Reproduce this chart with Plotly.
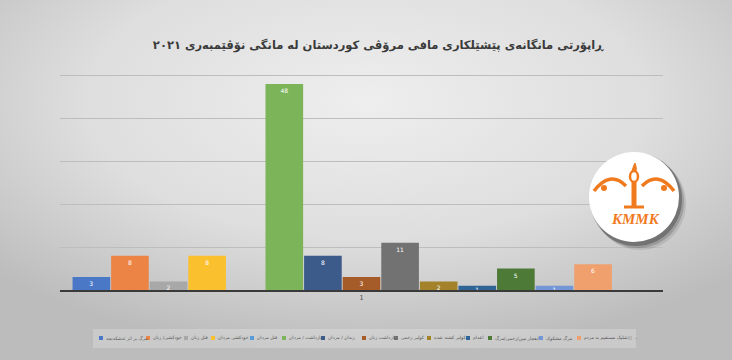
import base64
import plotly.graph_objects as go

# ---------------- data ----------------
categories = ["1"]
series_names = [
    "مرگ بر اثر ئەشکەنجە",
    "خودکشی/ زنان",
    "قتل زنان",
    "خودکشی مردان",
    "قتل مردان",
    "بازداشت / مردان",
    "زندان / مردان",
    "بازداشت زنان",
    "کولبر زخمی",
    "کولبر کشته شده",
    "اعدام",
    "انفجار مین/زخمی/مرگ",
    "مرگ مشکوک",
    "شلیک مستقیم به مردم",
    "-",
]
series_values = [3, 8, 2, 8, 0, 48, 8, 3, 11, 2, 1, 5, 1, 6, None]
title_text = "ڕاپۆرتی مانگانەی پێشێلکاری مافی مرۆڤی کوردستان لە مانگی نۆڤێمبەری ٢٠٢١"

# ---------------- styles ----------------
colors = ["#4A78C6", "#EC8446", "#A8A8A8", "#FBC02D", "#5B9BD5", "#7CB45A",
          "#3C5A8A", "#A65C28", "#727272", "#A3822A", "#2F6496", "#4E7A38",
          "#7396D6", "#EFA06C", "#B7B7B7"]
W, H = 732, 360
ML, MR, MT, MB = 60, 69, 71, 70
PW, PH = W - ML - MR, H - MT - MB
FONT = "DejaVu Sans"


def px(x):
    return (x - ML) / PW


def py(y):
    return (H - MB - y) / PH


fig = go.Figure()
for name, val, col in zip(series_names, series_values, colors):
    fig.add_trace(go.Bar(
        x=categories, y=[val], name=name,
        marker=dict(color=col, line=dict(width=0)),
        texttemplate="%{y}",
        textposition="inside",
        insidetextanchor="end",
        textangle=0,
        textfont=dict(size=6, color="white", family=FONT),
        cliponaxis=False,
        showlegend=False,
    ))

# background gradient
svg = ("<svg xmlns='http://www.w3.org/2000/svg' width='732' height='360'>"
       "<defs><radialGradient id='g' cx='50%' cy='28%' r='70%'>"
       "<stop offset='0' stop-color='#eeeeee'/>"
       "<stop offset='0.55' stop-color='#dedede'/>"
       "<stop offset='1' stop-color='#bcbcbc'/></radialGradient></defs>"
       "<rect width='732' height='360' fill='url(#g)'/></svg>")
src = "data:image/svg+xml;base64," + base64.b64encode(svg.encode()).decode()

shapes = []
annotations = []

# legend box
shapes.append(dict(type="rect", xref="paper", yref="paper",
                   x0=px(93), x1=px(636), y0=py(348), y1=py(329),
                   fillcolor="rgba(255,255,255,0.22)", line=dict(width=0), layer="below"))

legend_marker_x = [99, 146, 184, 211, 250, 282, 321, 362, 394, 427, 466, 488, 539, 577, 628]
ly = 338
for name, col, mx in zip(series_names, colors, legend_marker_x):
    shapes.append(dict(type="rect", xref="paper", yref="paper",
                       x0=px(mx), x1=px(mx + 4), y0=py(ly + 2), y1=py(ly - 2),
                       fillcolor=col, line=dict(width=0)))
    annotations.append(dict(xref="paper", yref="paper", x=px(mx + 5), y=py(ly),
                            xanchor="left", yanchor="middle", showarrow=False,
                            text=name, font=dict(size=4.6, color="#595959", family=FONT)))

# logo: shadow + white circle
cx, cy, r = 634, 197, 45
for k, op in [(7, 0.10), (5, 0.18), (3, 0.30)]:
    shapes.append(dict(type="circle", xref="paper", yref="paper",
                       x0=px(cx - r + k - 2), x1=px(cx + r + k),
                       y0=py(cy + r + k + 1), y1=py(cy - r + k - 2),
                       fillcolor=f"rgba(20,20,20,{op})", line=dict(width=0)))
shapes.append(dict(type="circle", xref="paper", yref="paper",
                   x0=px(cx - r), x1=px(cx + r), y0=py(cy + r), y1=py(cy - r),
                   fillcolor="white", line=dict(width=0)))
orange = "#F07A1E"

# arches
for sgn in (-1, 1):
    x_out, x_in = cx + sgn * 40, cx + sgn * 8
    x_mid = cx + sgn * 24
    shapes.append(dict(type="path", xref="paper", yref="paper",
                       path=f"M {px(x_out)},{py(191)} Q {px(x_mid)},{py(170)} {px(x_in)},{py(186)}",
                       line=dict(color=orange, width=3.5)))
    shapes.append(dict(type="circle", xref="paper", yref="paper",
                       x0=px(cx + sgn * 30 - 3), x1=px(cx + sgn * 30 + 3),
                       y0=py(191), y1=py(185), fillcolor=orange, line=dict(width=0)))
# stem, flame, base
shapes.append(dict(type="line", xref="paper", yref="paper",
                   x0=px(cx), x1=px(cx), y0=py(180), y1=py(206),
                   line=dict(color=orange, width=5)))
shapes.append(dict(type="circle", xref="paper", yref="paper",
                   x0=px(cx - 4), x1=px(cx + 4), y0=py(182), y1=py(171),
                   fillcolor="white", line=dict(color=orange, width=2.5)))
shapes.append(dict(type="path", xref="paper", yref="paper",
                   path=f"M {px(cx-2)},{py(171)} Q {px(cx)},{py(164)} {px(cx+1)},{py(163)} Q {px(cx+3)},{py(168)} {px(cx+2)},{py(171)} Z",
                   fillcolor=orange, line=dict(color=orange, width=1)))
shapes.append(dict(type="line", xref="paper", yref="paper",
                   x0=px(cx - 10), x1=px(cx + 10), y0=py(207), y1=py(207),
                   line=dict(color=orange, width=3)))
annotations.append(dict(xref="paper", yref="paper", x=px(cx + 1), y=py(219),
                        xanchor="center", yanchor="middle", showarrow=False,
                        text="<b><i>KMMK</i></b>",
                        font=dict(size=15, color=orange, family="Liberation Serif")))

fig.update_layout(
    width=W, height=H,
    margin=dict(l=ML, r=MR, t=MT, b=MB),
    paper_bgcolor="#d6d6d6",
    plot_bgcolor="rgba(0,0,0,0)",
    barmode="group",
    bargap=0.04,
    bargroupgap=0.025,
    showlegend=False,
    title=dict(text=title_text, x=378 / W, xanchor="center",
               y=1 - 45 / H, yanchor="middle",
               font=dict(size=11.5, color="#3a3a3a", family=FONT, weight="bold")),
    images=[dict(source=src, xref="paper", yref="paper",
                 x=-ML / PW, y=1 + MT / PH, sizex=W / PW, sizey=H / PH,
                 xanchor="left", yanchor="top", sizing="stretch", layer="below")],
    shapes=shapes,
    annotations=annotations,
    xaxis=dict(type="category", range=[-0.5, 0.5], showgrid=False,
               showline=True, linecolor="#3a3a3a", linewidth=1.5,
               ticks="", tickfont=dict(size=7, color="#595959", family=FONT),
               fixedrange=True),
    yaxis=dict(range=[0, 51], tickvals=[10, 20, 30, 40, 50], showgrid=True,
               gridcolor="#bdbdbd", gridwidth=1, showticklabels=False,
               zeroline=False, ticks="", showline=False, fixedrange=True),
    uniformtext=dict(mode="show", minsize=6),
)

fig.write_html("out.html", config={"displayModeBar": False},
               post_script="document.body.style.margin='0';")
